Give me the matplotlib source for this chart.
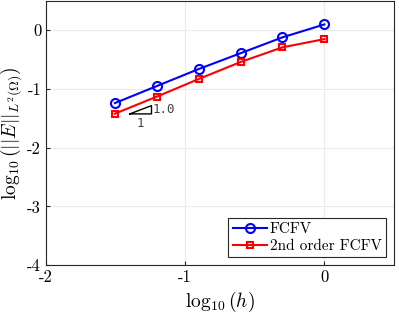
import matplotlib
matplotlib.use("Agg")
import matplotlib.pyplot as plt

plt.rcParams["mathtext.fontset"] = "cm"
plt.rcParams["font.family"] = "cmr10"
plt.rcParams["axes.formatter.use_mathtext"] = True

# data: log10(h) vs log10 of the L2 error
log_h = [-1.505, -1.204, -0.903, -0.602, -0.301, 0.0]
err_fcfv = [-1.24, -0.95, -0.66, -0.39, -0.12, 0.10]
err_fcfv2 = [-1.42, -1.13, -0.83, -0.54, -0.29, -0.15]

# slope triangle
tri_x = [-1.398, -1.242]
tri_y = [-1.424, -1.283]
slope_label = "1.0"

fig = plt.figure(figsize=(3.99, 3.16), dpi=100)
ax = fig.add_axes([0.1153, 0.161, 0.872, 0.836])

ax.plot(log_h, err_fcfv, "-o", color="blue", lw=1.5, ms=6.5, mfc="none",
        mew=1.5, label="FCFV")
ax.plot(log_h, err_fcfv2, "-s", color="red", lw=1.5, ms=5, mfc="none",
        mew=1.5, label="2nd order FCFV")

# triangle
ax.plot([tri_x[0], tri_x[1], tri_x[1], tri_x[0]],
        [tri_y[0], tri_y[1], tri_y[0], tri_y[0]], color="black", lw=1)
ax.text(tri_x[1] + 0.01, (tri_y[0] + tri_y[1]) / 2, slope_label,
        family="DejaVu Sans Mono", fontsize=9, color="#404040",
        ha="left", va="center")
ax.text((tri_x[0] + tri_x[1]) / 2, tri_y[0] - 0.05, "1",
        family="DejaVu Sans Mono", fontsize=9, color="#404040",
        ha="center", va="top")

ax.set_xlim(-2, 0.5)
ax.set_ylim(-4, 0.5)
ax.set_xticks([-2, -1, 0])
ax.set_xticklabels(["-2", "-1", "0"])
ax.set_yticks([-4, -3, -2, -1, 0])
ax.set_yticklabels(["-4", "-3", "-2", "-1", "0"])
ax.grid(True, color="#ebebeb", lw=0.8)
ax.set_axisbelow(True)
ax.tick_params(direction="in", labelsize=12, color="#262626", length=3)
for s in ax.spines.values():
    s.set_color("#262626")
    s.set_linewidth(0.8)

ax.set_xlabel(r"$\log_{10}(h)$", fontsize=14, labelpad=3)
ax.set_ylabel(r"$\log_{10}(||E||_{L^2(\Omega)})$", fontsize=14, labelpad=2)

leg = ax.legend(loc="lower right", fontsize=11, fancybox=False,
                edgecolor="#262626", framealpha=1, borderpad=0.3,
                handlelength=2.2, handletextpad=0.2, labelspacing=0.2,
                borderaxespad=0.5)
leg.get_frame().set_linewidth(0.8)

fig.savefig("out.png", dpi=100)
